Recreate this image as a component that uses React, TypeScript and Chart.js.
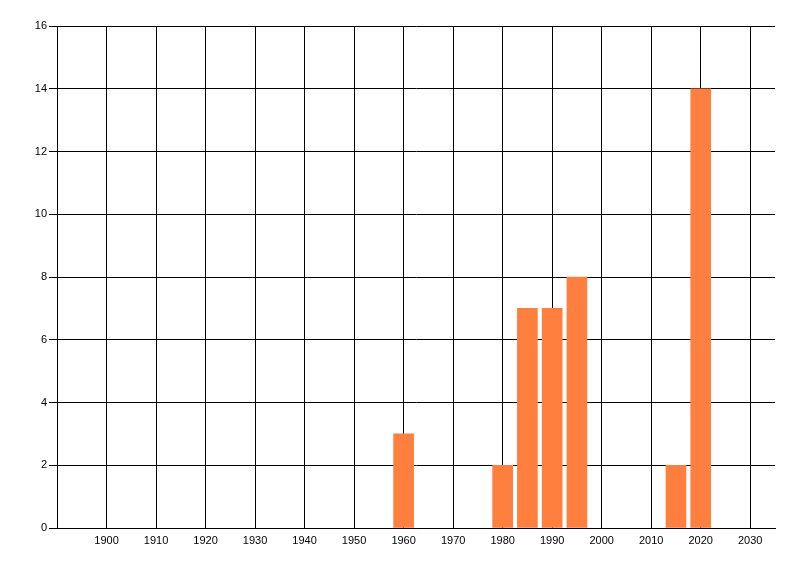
import React, { useEffect, useRef } from "react";
import { Chart, registerables } from "chart.js";

Chart.register(...registerables);

const years = [1960, 1980, 1985, 1990, 1995, 2015, 2020];
const counts = [3, 2, 7, 7, 8, 2, 14];
const xTickValues = [1900, 1910, 1920, 1930, 1940, 1950, 1960, 1970, 1980, 1990, 2000, 2010, 2020, 2030];
const yTickValues = [0, 2, 4, 6, 8, 10, 12, 14, 16];

export default function App() {
  const ref = useRef<HTMLCanvasElement>(null);
  useEffect(() => {
    if (!ref.current) return;
    const font = { family: "Liberation Sans", size: 11 };
    const chart = new Chart(ref.current, {
      type: "bar",
      data: {
        datasets: [
          {
            data: years.map((y, i) => ({ x: y, y: counts[i] })),
            backgroundColor: "rgb(255,127,63)",
            borderWidth: 0,
            barThickness: 20,
          },
        ],
      },
      options: {
        responsive: false,
        animation: false,
        layout: { padding: { top: 26, right: 25, left: 0, bottom: 0 } },
        plugins: { legend: { display: false }, tooltip: { enabled: false } },
        scales: {
          x: {
            type: "linear",
            min: 1890,
            max: 2035,
            offset: false,
            afterBuildTicks: (s: any) => {
              s.ticks = xTickValues.map((v) => ({ value: v }));
            },
            afterFit: (s: any) => {
              s.height = 48;
            },
            grid: { color: "#000", lineWidth: 1, drawTicks: false, tickLength: 0, offset: false },
            border: { display: true, color: "#000", width: 1 },
            ticks: { color: "#000", font, padding: 6, maxRotation: 0, autoSkip: false, callback: (v: any) => String(v) },
          },
          y: {
            min: 0,
            max: 16,
            afterBuildTicks: (s: any) => {
              s.ticks = yTickValues.map((v) => ({ value: v }));
            },
            afterFit: (s: any) => {
              s.width = 57;
            },
            grid: { color: "#000", lineWidth: 1, drawTicks: true, tickLength: 8, offset: false },
            border: { display: true, color: "#000", width: 1 },
            ticks: { color: "#000", font, padding: 2, callback: (v: any) => String(v) },
          },
        },
      },
    });
    return () => chart.destroy();
  }, []);
  return (
    <div style={{ position: "fixed", left: 0, top: 0, width: 800, height: 576, background: "#fff" }}>
      <canvas ref={ref} width={800} height={576} />
    </div>
  );
}
